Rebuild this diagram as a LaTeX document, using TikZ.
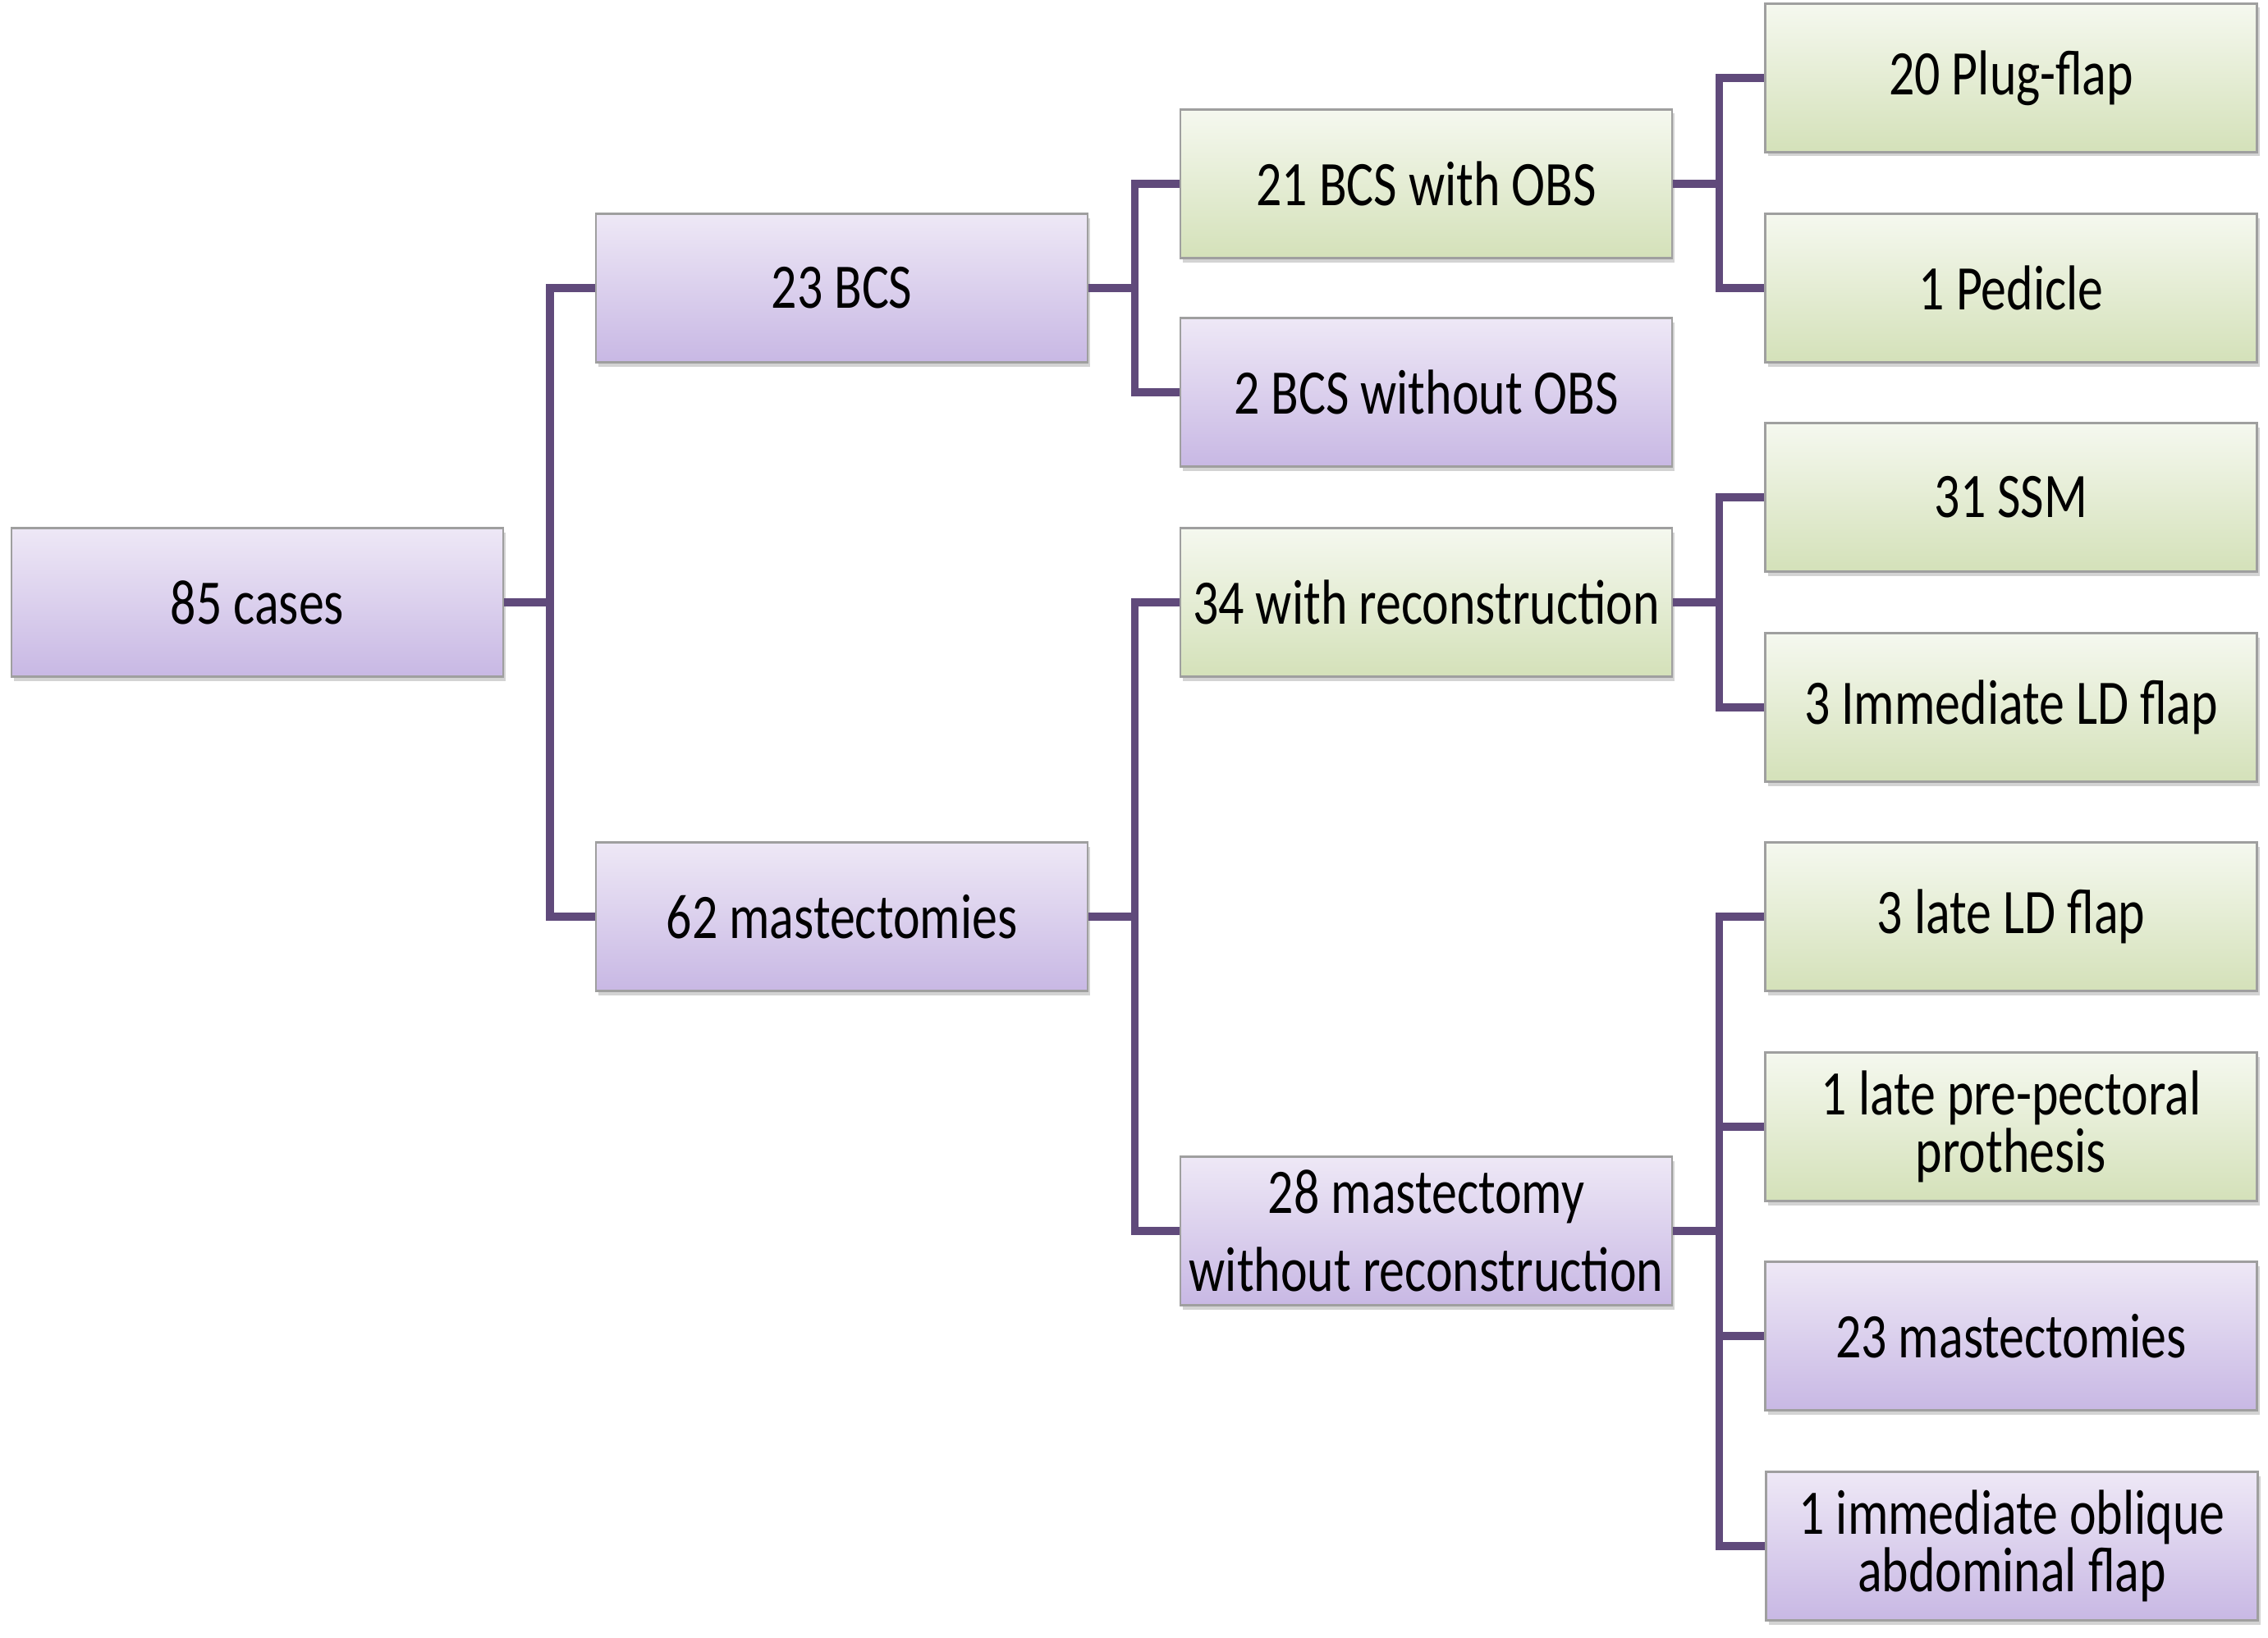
\documentclass[tikz,border=0pt]{standalone}
\usepackage{fontspec}
\setmainfont[FakeStretch=0.8]{Carlito}
\usetikzlibrary{positioning, shadows}
\definecolor{linkpurple}{RGB}{96,74,123}
\definecolor{lilactop}{RGB}{238,232,246}
\definecolor{lilacbot}{RGB}{200,184,228}
\definecolor{sagetop}{RGB}{245,248,239}
\definecolor{sagebot}{RGB}{212,225,185}
\tikzset{
    box/.style={rectangle, draw=gray!75, line width=0.6pt, minimum width=5.99cm, minimum height=1.81cm,
        inner sep=0pt, align=center, font=\fontsize{22}{20}\selectfont,
        drop shadow={shadow xshift=0.03cm, shadow yshift=-0.05cm, opacity=0.35}},
    lilac/.style={box, top color=lilactop, bottom color=lilacbot},
    sage/.style={box, top color=sagetop, bottom color=sagebot},
    link/.style={draw=linkpurple, line width=2.6pt}
}

\begin{document}
\begin{tikzpicture}
    \useasboundingbox (0,0) rectangle (27.63,-19.95);
    % first levels
    \node[lilac] (cases) at (3.135,-7.34) {85 cases};
    \node[lilac] (bcs) at (10.255,-3.51) {23 BCS};
    \node[lilac] (mast) at (10.255,-11.17) {62 mastectomies};
    \node[sage] (bcsobs) at (17.375,-2.24) {21 BCS with OBS};
    \node[lilac] (bcsno) at (17.375,-4.78) {2 BCS without OBS};
    \node[sage] (recon) at (17.375,-7.34) {34 with reconstruction};
    \node[lilac, font=\fontsize{22}{27}\selectfont] (norecon) at (17.375,-15.00) {28 mastectomy\\without reconstruction};
    % last level
    \node[sage] (plug) at (24.50,-0.95) {20 Plug-flap};
    \node[sage] (pedicle) at (24.50,-3.51) {1 Pedicle};
    \node[sage] (ssm) at (24.50,-6.06) {31 SSM};
    \node[sage] (ldimm) at (24.50,-8.62) {3 Immediate LD flap};
    \node[sage] (ldlate) at (24.50,-11.17) {3 late LD flap};
    \node[sage] (prepect) at (24.50,-13.73) {1 late pre-pectoral\\prothesis};
    \node[lilac] (mastect) at (24.50,-16.28) {23 mastectomies};
    \node[lilac] (oblique) at (24.51,-18.84) {1 immediate oblique\\abdominal flap};

    \draw[link] (cases.east) -- ++(0.56,0) |- (bcs.west)
        (cases.east) -- ++(0.56,0) |- (mast.west);
    \draw[link] (bcs.east) -- ++(0.56,0) |- (bcsobs.west)
        (bcs.east) -- ++(0.56,0) |- (bcsno.west);
    \draw[link] (mast.east) -- ++(0.56,0) |- (recon.west)
        (mast.east) -- ++(0.56,0) |- (norecon.west);
    \draw[link] (bcsobs.east) -- ++(0.56,0) |- (plug.west)
        (bcsobs.east) -- ++(0.56,0) |- (pedicle.west);
    \draw[link] (recon.east) -- ++(0.56,0) |- (ssm.west)
        (recon.east) -- ++(0.56,0) |- (ldimm.west);
    \foreach \leaf in {ldlate, prepect, mastect, oblique}
        \draw[link] (norecon.east) -- ++(0.56,0) |- (\leaf.west);
\end{tikzpicture}
\end{document}
